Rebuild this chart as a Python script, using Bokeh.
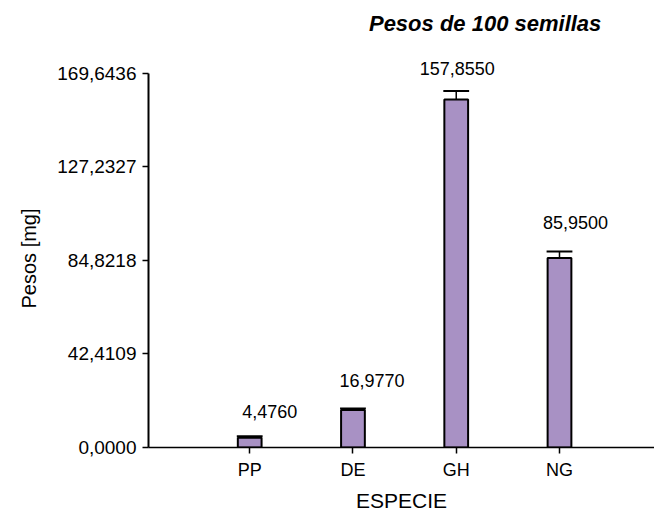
from bokeh.plotting import figure
from bokeh.models import (ColumnDataSource, FixedTicker, Range1d, LabelSet, Label,
                          CustomJSTickFormatter, Title)
from bokeh.core.properties import value
from bokeh.embed import file_html
from bokeh.resources import INLINE

# Seed weights (mg per 100 seeds) by species
especies = ["PP", "DE", "GH", "NG"]
pesos = [4.4760, 16.9770, 157.8550, 85.9500]
error_sup = [0.6, 0.7, 3.8, 2.9]
y_ticks = [0.0, 42.4109, 84.8218, 127.2327, 169.6436]

FONT = "Liberation Sans"
BAR_W = 0.23

xs = list(range(1, len(especies) + 1))
tops = [v + e for v, e in zip(pesos, error_sup)]
src = ColumnDataSource(dict(
    x=xs,
    peso=pesos,
    top=tops,
    left=[x - BAR_W / 2 - 0.01 for x in xs],
    right=[x + BAR_W / 2 + 0.01 for x in xs],
    etiqueta=[f"{v:.4f}".replace(".", ",") for v in pesos],
    dx=[20, 19, 1, 16],
    dy=[18, 22, 16, 23],
))

# headroom above the axis holds the title and value labels
p = figure(width=654, height=514,
           x_range=Range1d(0.02, 4.92), y_range=Range1d(0, 199.1),
           output_backend="svg", toolbar_location=None,
           min_border_left=146, min_border_right=0,
           min_border_top=8, min_border_bottom=67)
p.outline_line_color = None
p.grid.visible = False
p.background_fill_color = "white"
p.border_fill_color = "white"

p.vbar(x="x", top="peso", bottom=0, width=BAR_W, source=src,
       fill_color="#a891c4", line_color="black", line_width=2)
p.segment(x0="x", y0="peso", x1="x", y1="top", source=src,
          line_color="black", line_width=1.5)
p.segment(x0="left", y0="top", x1="right", y1="top", source=src,
          line_color="black", line_width=2)

p.add_layout(LabelSet(x="x", y="top", text="etiqueta", source=src,
                      x_offset="dx", y_offset="dy",
                      text_align="center", text_baseline="alphabetic",
                      text_font=value(FONT), text_font_size=value("18px"),
                      text_color="black"))

p.add_layout(Label(x=3.28, y=y_ticks[-1], y_offset=50, text="Pesos de 100 semillas",
                   text_align="center", text_baseline="alphabetic",
                   text_font=FONT, text_font_size="22px",
                   text_font_style="bold italic", text_color="black"))

# y axis
ya = p.yaxis[0]
ya.ticker = FixedTicker(ticks=y_ticks)
ya.bounds = (y_ticks[0], y_ticks[-1])
ya.formatter = CustomJSTickFormatter(code="return tick.toFixed(4).replace('.', ',');")
ya.axis_line_width = 2
ya.axis_line_color = "black"
ya.major_tick_out = 6
ya.major_tick_in = 0
ya.major_tick_line_width = 1.5
ya.major_tick_line_color = "black"
ya.minor_tick_line_color = None
ya.major_label_standoff = 6
ya.major_label_text_font = FONT
ya.major_label_text_font_size = "19px"
ya.major_label_text_color = "black"

# y axis title, placed along the axis span rather than the whole frame
p.add_layout(Title(text="Pesos [mg]", align="left", offset=139,
                   text_font=FONT, text_font_size="20px", text_font_style="normal",
                   text_color="black", standoff=30), "left")

# x axis
xa = p.xaxis[0]
xa.ticker = FixedTicker(ticks=xs)
xa.formatter = CustomJSTickFormatter(args=dict(names=especies),
                                     code="return names[Math.round(tick) - 1];")
xa.axis_line_width = 1.5
xa.axis_line_color = "black"
xa.major_tick_out = 6
xa.major_tick_in = 0
xa.major_tick_line_width = 1.5
xa.major_tick_line_color = "black"
xa.minor_tick_line_color = None
xa.major_label_standoff = 6
xa.major_label_text_font = FONT
xa.major_label_text_font_size = "18px"
xa.major_label_text_color = "black"
xa.axis_label = "ESPECIE"
xa.axis_label_text_font = FONT
xa.axis_label_text_font_size = "21px"
xa.axis_label_text_font_style = "normal"
xa.axis_label_text_color = "black"
xa.axis_label_standoff = 6

open("out.html", "w").write(file_html(p, INLINE))
